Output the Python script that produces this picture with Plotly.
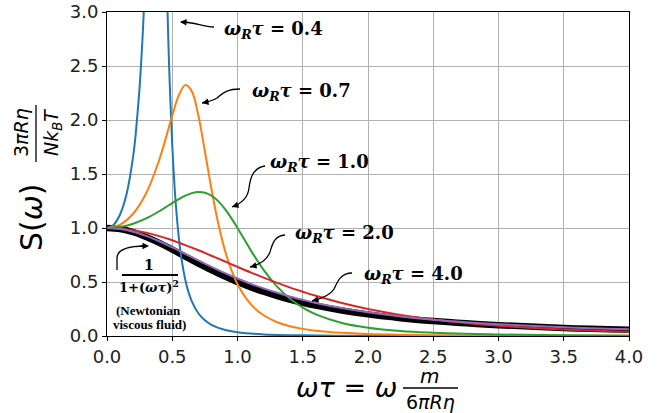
import plotly.graph_objects as go

# ---------------- data ----------------
x_blue = [0, 0.05, 0.1, 0.15, 0.2, 0.22, 0.25, 0.27, 0.28, 0.3, 0.32, 0.35, 0.38, 0.4,
          0.42, 0.45, 0.47, 0.48, 0.5, 0.52, 0.55, 0.57, 0.6, 0.62, 0.65, 0.7, 0.75,
          0.8, 0.9, 1.0, 1.2, 1.5, 2.0, 3.0, 4.0]
s_04 = [1.0, 1.029, 1.125, 1.314, 1.660, 1.870, 2.305, 2.708, 2.954, 3.554, 4.31, 5.636, 6.50, 6.25,
        5.35, 3.662, 2.734, 2.358, 1.766, 1.340, 0.913, 0.721, 0.520, 0.425, 0.321, 0.211, 0.145,
        0.104, 0.058, 0.035, 0.015, 0.006, 0.002, 0.0003, 0.0001]

x_grid = [0, 0.1, 0.2, 0.3, 0.4, 0.5, 0.55, 0.6, 0.65, 0.7, 0.75, 0.8, 0.85, 0.9, 0.95,
          1.0, 1.1, 1.2, 1.3, 1.4, 1.5, 1.6, 1.8, 2.0, 2.25, 2.5, 2.75, 3.0, 3.5, 4.0]
s_07 = [1.0, 1.031, 1.132, 1.322, 1.630, 2.041, 2.228, 2.323, 2.265, 2.041, 1.711, 1.363, 1.055, 0.809, 0.621,
        0.480, 0.297, 0.192, 0.130, 0.091, 0.066, 0.049, 0.029, 0.018, 0.011, 0.007, 0.005, 0.003, 0.002, 0.001]
s_10 = [1.0, 1.010, 1.040, 1.089, 1.155, 1.231, 1.267, 1.299, 1.323, 1.333, 1.326, 1.299, 1.251, 1.182, 1.096,
        1.0, 0.797, 0.612, 0.462, 0.347, 0.262, 0.200, 0.121, 0.077, 0.046, 0.030, 0.020, 0.014, 0.007, 0.004]
s_20 = [1.0, 0.995, 0.980, 0.957, 0.925, 0.886, 0.864, 0.842, 0.818, 0.794, 0.769, 0.743, 0.718, 0.692, 0.666,
        0.640, 0.589, 0.541, 0.494, 0.450, 0.410, 0.372, 0.305, 0.250, 0.195, 0.152, 0.120, 0.095, 0.061, 0.040]
s_40 = [1.0, 0.991, 0.966, 0.927, 0.877, 0.820, 0.791, 0.760, 0.730, 0.700, 0.670, 0.640, 0.612, 0.584, 0.558,
        0.532, 0.484, 0.441, 0.402, 0.366, 0.335, 0.306, 0.258, 0.219, 0.181, 0.151, 0.128, 0.109, 0.081, 0.063]
s_newton = [1.0, 0.990, 0.962, 0.917, 0.862, 0.800, 0.768, 0.735, 0.703, 0.671, 0.640, 0.610, 0.581, 0.552, 0.526,
            0.500, 0.452, 0.410, 0.372, 0.338, 0.308, 0.281, 0.236, 0.200, 0.165, 0.138, 0.117, 0.100, 0.075, 0.059]

tick_vals_x = [0, 0.5, 1.0, 1.5, 2.0, 2.5, 3.0, 3.5, 4.0]
tick_text_x = ["0.0", "0.5", "1.0", "1.5", "2.0", "2.5", "3.0", "3.5", "4.0"]
tick_vals_y = [0, 0.5, 1.0, 1.5, 2.0, 2.5, 3.0]
tick_text_y = ["0.0", "0.5", "1.0", "1.5", "2.0", "2.5", "3.0"]

labels = ["0.4", "0.7", "1.0", "2.0", "4.0"]

# ---------------- figure ----------------
W, H = 657, 413
ML, MR, MT, MB = 107, 28, 12, 77
PW, PH = W - ML - MR, H - MT - MB


def px(x):
    return (x - ML) / PW


def py(y):
    return (MT + PH - y) / PH


fig = go.Figure()
fig.add_trace(go.Scatter(x=x_grid, y=s_newton, mode="lines",
                         line=dict(color="black", width=6.5, shape="spline"), showlegend=False))
fig.add_trace(go.Scatter(x=x_blue, y=s_04, mode="lines",
                         line=dict(color="#1f77b4", width=2, shape="spline", smoothing=0.6), showlegend=False))
colors = ["#ff7f0e", "#2ca02c", "#d62728", "#9467bd"]
for ys, c in zip([s_07, s_10, s_20, s_40], colors):
    fig.add_trace(go.Scatter(x=x_grid, y=ys, mode="lines",
                             line=dict(color=c, width=2, shape="spline"), showlegend=False))

axis_common = dict(showgrid=True, gridcolor="#b0b0b0", gridwidth=1, zeroline=False,
                   showline=True, linecolor="black", linewidth=1, mirror=True,
                   ticks="outside", ticklen=4, tickcolor="black", automargin=False,
                   tickfont=dict(family="DejaVu Sans", size=18, color="#222"))
fig.update_xaxes(range=[0, 4], tickvals=tick_vals_x, ticktext=tick_text_x, **axis_common)
fig.update_yaxes(range=[0, 3], tickvals=tick_vals_y, ticktext=tick_text_y, **axis_common)

shapes = []
annotations = []
serif = "DejaVu Serif"


def txt(x, y, text, size, family="DejaVu Sans", angle=0, xanchor="center"):
    annotations.append(dict(x=px(x), y=py(y), xref="paper", yref="paper", xanchor=xanchor, yanchor="middle",
                            showarrow=False, text=text, textangle=angle,
                            font=dict(family=family, size=size, color="black")))


def hline(x0, x1, y, w=1.3):
    shapes.append(dict(type="line", xref="paper", yref="paper", x0=px(x0), x1=px(x1), y0=py(y), y1=py(y),
                       line=dict(color="black", width=w)))


# curve labels
label_pos = [(222, 30), (250, 92), (268, 163), (293, 234), (362, 275)]
for lab, (lx, ly) in zip(labels, label_pos):
    txt(lx, ly, "<b><i>ω</i><sub><i>R</i></sub><i>τ</i> = " + lab + "</b>", 18, serif, xanchor="left")

# curved arrow bodies (pixel coordinates converted to paper)
paths_px = [
    [(214, 27), (202, 27), (196, 22), (181, 22)],
    [(240, 89), (226, 89), (222, 94), (217, 98), (212, 101), (207, 102), (202, 103)],
    [(265, 166), (252, 168), (250, 180), (249, 188), (248, 198), (240, 204), (232, 207)],
    [(285, 235), (273, 236), (272, 246), (270, 252), (267, 260), (258, 265), (250, 267)],
    [(352, 273), (340, 273), (337, 283), (334, 289), (330, 296), (320, 299), (312, 301)],
]
for pts in paths_px:
    d = "M %f,%f" % (px(pts[0][0]), py(pts[0][1]))
    rest = pts[1:]
    for i in range(0, len(rest), 3):
        seg = rest[i:i + 3]
        d += " C " + " ".join("%f,%f" % (px(a), py(b)) for a, b in seg)
    shapes.append(dict(type="path", path=d, xref="paper", yref="paper",
                       line=dict(color="black", width=1.3)))
# newtonian arrow
d = "M %f,%f L %f,%f C %f,%f %f,%f %f,%f" % (px(117), py(270), px(117), py(258),
                                               px(117), py(249), px(130), py(246), px(146), py(246))
shapes.append(dict(type="path", path=d, xref="paper", yref="paper", line=dict(color="black", width=1.3)))

heads = [((180, 22), 10, 0.5), ((202, 103), 8, -1.5), ((232, 207), 8, -3), ((250, 267), 8, -2),
         ((312, 301), 8, -2), ((149, 246), -10, 0)]
for (hx, hy), ax, ay in heads:
    annotations.append(dict(x=px(hx), y=py(hy), xref="paper", yref="paper", text="", showarrow=True,
                            ax=ax, ay=ay, arrowhead=2, arrowsize=1, arrowwidth=1.3, arrowcolor="black",
                            standoff=0))

# Newtonian label
txt(149, 265, "<b>1</b>", 14, serif)
hline(122, 178, 275, 2)
txt(149, 286, "<b>1+(<i>ωτ</i>)<sup>2</sup></b>", 13, serif)
txt(148, 310, "<b>(Newtonian</b>", 13, "Liberation Serif")
txt(149, 324, "<b>viscous fluid)</b>", 13, "Liberation Serif")

# y-axis title
txt(32, 217, "S(<i>ω</i>)", 30, angle=-90)
txt(21, 133, "3<i>πRη</i>", 19, angle=-90)
shapes.append(dict(type="line", xref="paper", yref="paper", x0=px(36), x1=px(36), y0=py(105), y1=py(162),
                   line=dict(color="black", width=1.3)))
txt(52, 133, "<i>Nk</i><sub><i>B</i></sub><i>T</i>", 19, angle=-90)

# x-axis title
txt(399, 387, "<i>ωτ</i> = <i>ω</i>", 27, xanchor="right")
txt(429, 376, "<i>m</i>", 20)
hline(403, 458, 388)
txt(430, 402, "6<i>πRη</i>", 19)

fig.update_layout(width=W, height=H, margin=dict(l=ML, r=MR, t=MT, b=MB, autoexpand=False),
                  paper_bgcolor="white", plot_bgcolor="white",
                  shapes=shapes, annotations=annotations)

fig.write_html("out.html", config={"displayModeBar": False},
               post_script="document.body.style.margin='0';document.body.style.padding='0';")
